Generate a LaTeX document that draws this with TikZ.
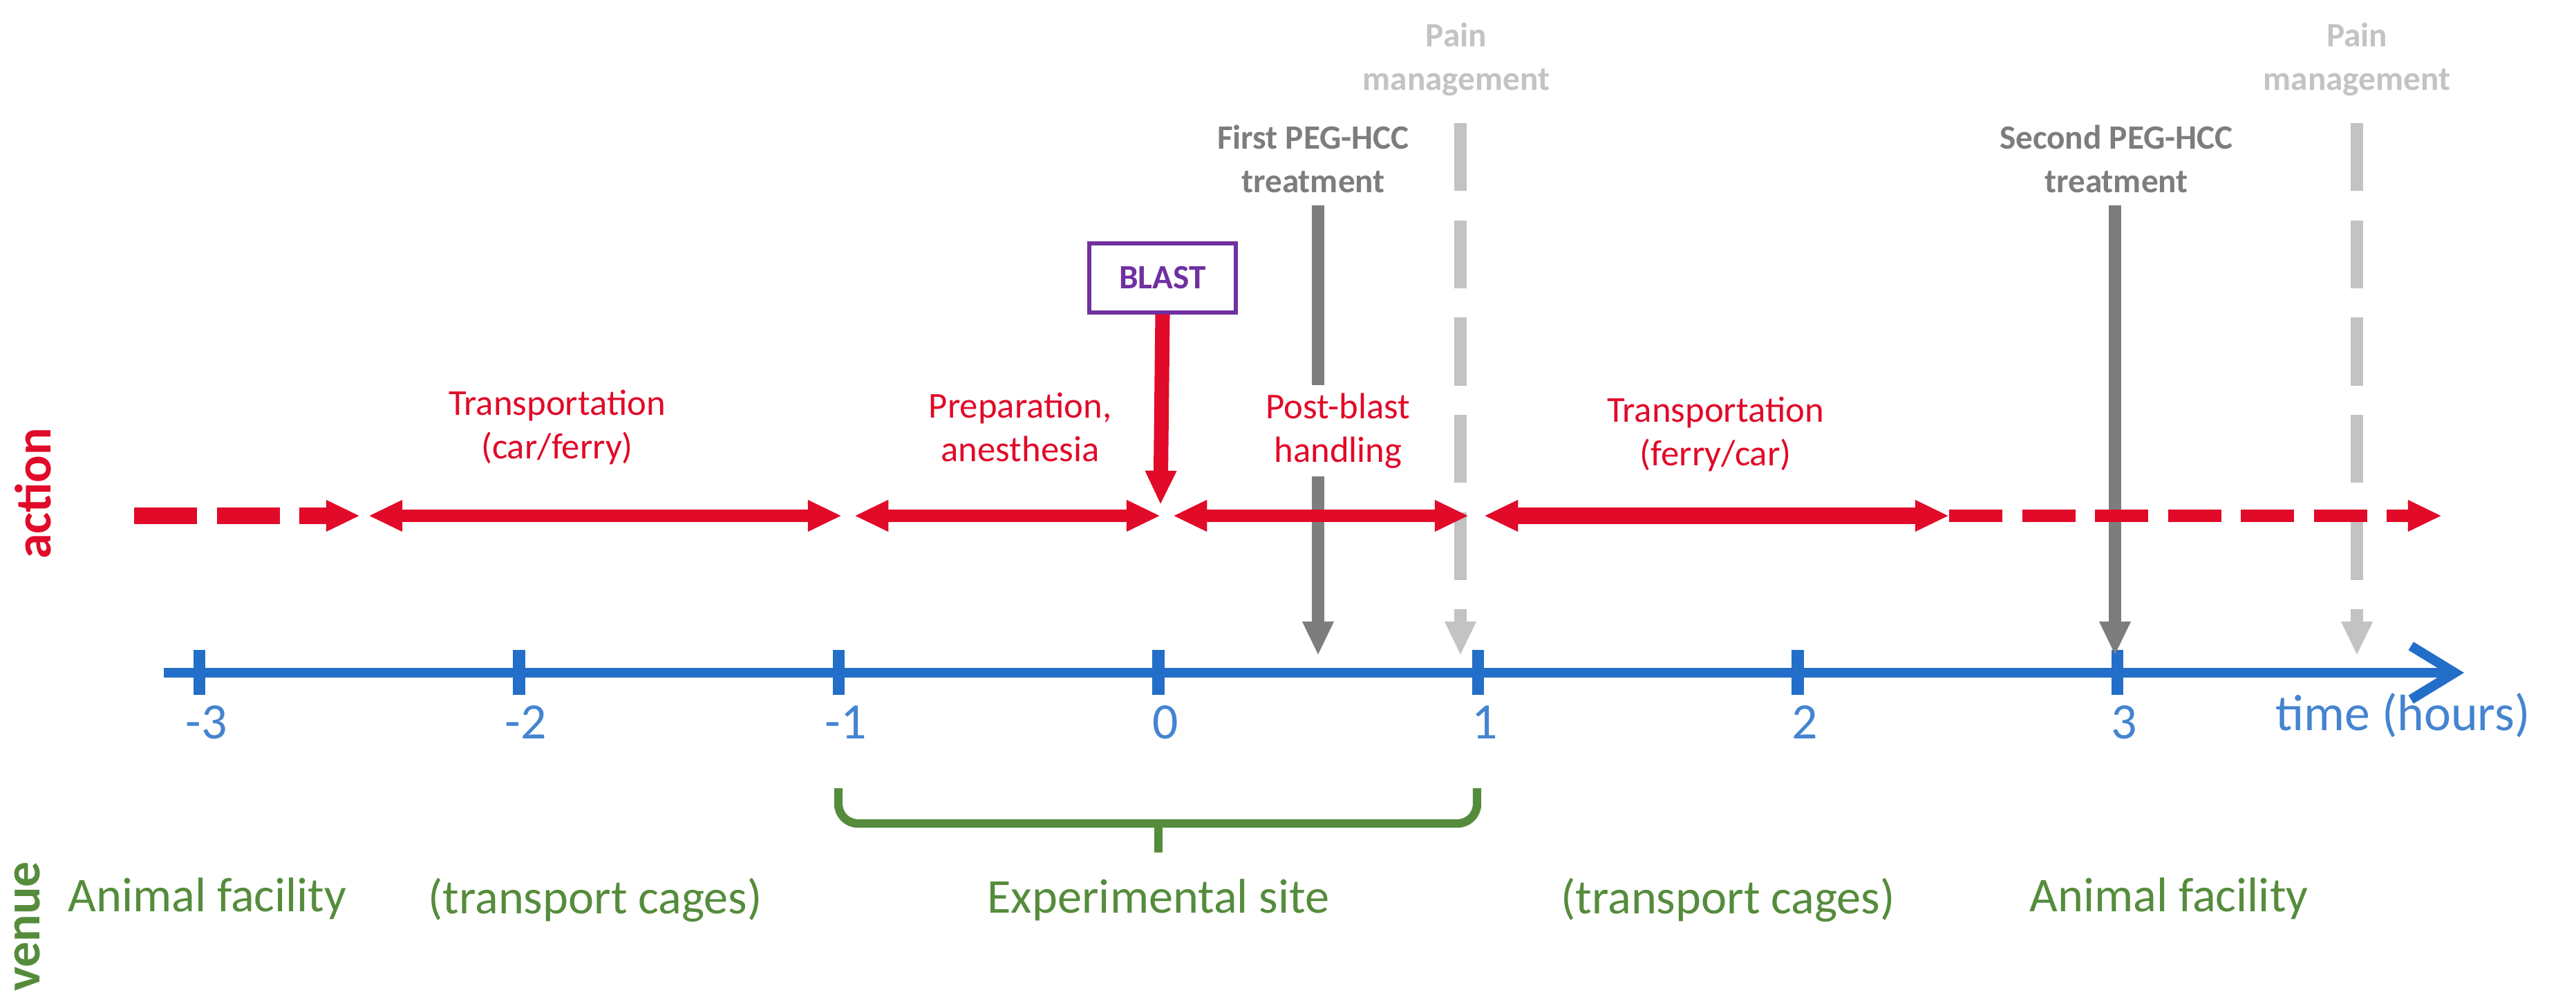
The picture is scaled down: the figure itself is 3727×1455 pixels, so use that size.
\documentclass[tikz,border=0pt]{standalone}
\usepackage{fontspec}
\setmainfont{Carlito}
\usetikzlibrary{arrows.meta}
\definecolor{cred}{RGB}{225,10,40}
\definecolor{cblue}{RGB}{35,110,200}
\definecolor{cgreen}{RGB}{85,140,60}
\definecolor{cgray}{RGB}{125,125,125}
\definecolor{clgray}{RGB}{195,195,195}
\definecolor{cpurple}{RGB}{112,48,160}
\begin{document}
\begin{tikzpicture}[x=0.01cm,y=-0.01cm,
  act/.style={cred,line width=5pt},
  actlbl/.style={cred,font=\fontsize{15}{18}\selectfont,align=center},
  grlbl/.style={cgray,font=\bfseries\fontsize{14}{18}\selectfont,align=center},
  lglbl/.style={clgray,font=\bfseries\fontsize{14}{18}\selectfont,align=center},
  venuelbl/.style={cgreen,font=\fontsize{20}{24}\selectfont},
  ticklbl/.style={cblue!85,font=\fontsize{21}{24}\selectfont},
  tip/.style={-{Triangle[length=14pt,width=12pt]}},
  dtip/.style={{Triangle[length=14pt,width=12pt]}-{Triangle[length=14pt,width=12pt]}}]
\useasboundingbox (0,0) rectangle (3727,1455);
% axis
\coordinate (ax0) at (237,973);
\coordinate (ax1) at (3565,973);
\draw[cblue,line width=4pt,-{Straight Barb[length=18pt,width=22pt,line width=4pt]}] (ax0) -- (ax1);
\foreach \h/\l in {-3/-3,-2/-2,-1/-1,0/0,1/1,2/2,3/3}{
  \draw[cblue,line width=5pt] ({1676+462.5*\h},940) -- ({1676+462.5*\h},1005);
  \node[ticklbl] (t\l) at ({1676+462.5*\h+10},1045) {\l};
}
\node[ticklbl,anchor=west] (tlab) at (3280,1035) {time (hours)};
% side labels
\node[cred,font=\bfseries\fontsize{21}{24}\selectfont,rotate=90] (actl) at (48,714) {action};
\node[cgreen,font=\bfseries\fontsize{21}{24}\selectfont,rotate=90] (venl) at (40,1340) {venue};
% PEG treatments
\node[grlbl] (peg1) at (1900,230) {First PEG-HCC\\treatment};
\coordinate (p1s) at (1907,297);
\coordinate (p1e) at (1907,948);
\draw[cgray,line width=5pt,tip] (p1s) -- (p1e);
\node[grlbl] (peg2) at (3062,230) {Second PEG-HCC\\treatment};
\coordinate (p2s) at (3060,297);
\coordinate (p2e) at (3060,948);
\draw[cgray,line width=5pt,tip] (p2s) -- (p2e);
% pain management
\node[lglbl] (pm1) at (2107,86) {Pain\\management};
\coordinate (pm1s) at (2113,178);
\coordinate (pm1e) at (2113,948);
\draw[clgray,line width=5pt,dash pattern=on 28pt off 12pt,tip] (pm1s) -- (pm1e);
\node[lglbl] (pm2) at (3410,86) {Pain\\management};
\coordinate (pm2s) at (3410,178);
\coordinate (pm2e) at (3410,948);
\draw[clgray,line width=5pt,dash pattern=on 28pt off 12pt,tip] (pm2s) -- (pm2e);
% action line
\coordinate (a0) at (194,746);
\coordinate (a1) at (521,746);
\coordinate (a2) at (533,746);
\coordinate (a3) at (1218,746);
\coordinate (a4) at (1236,746);
\coordinate (a5) at (1679,746);
\coordinate (a6) at (1697,746);
\coordinate (a7) at (2125,746);
\coordinate (a8) at (2147,746);
\coordinate (a9) at (2820,746);
\coordinate (a10) at (3533,746);
\draw[act,tip,dash pattern=on 26pt off 8pt,line width=7pt] (a0) -- (a1);
\draw[act,dtip] (a2) -- (a3);
\draw[act,dtip] (a4) -- (a5);
\draw[act,dtip] (a6) -- (a7);
\draw[act,dtip,line width=7pt] (a8) -- (a9);
\draw[act,tip,dash pattern=on 22pt off 8pt] (a9) -- (a10);
\node[actlbl] (l1) at (806,618) {Transportation\\(car/ferry)};
\node[actlbl] (l2) at (1476,618) {Preparation,\\anesthesia};
\node[actlbl,fill=white,inner xsep=1pt] (l3) at (1936,623) {Post-blast\\handling};
\node[actlbl] (l4) at (2482,628) {Transportation\\(ferry/car)};
% blast
\node[draw=cpurple,line width=1.5pt,text=cpurple,font=\bfseries\fontsize{14}{16}\selectfont,minimum width=2.12cm,minimum height=1cm] (blast) at (1682,402) {BLAST};
\coordinate (bt) at (1679,730);
\draw[cred,line width=6pt,tip] (blast.south) -- (bt);
% bracket
\coordinate (b0) at (1213,1140);
\coordinate (b1) at (2137,1140);
\coordinate (bm) at (1676,1233);
\draw[cgreen,line width=3.5pt,rounded corners=8pt] (b0) -- (1213,1191) -- (2137,1191) -- (b1);
\draw[cgreen,line width=3.5pt] (1676,1191) -- (bm);
% venues
\node[venuelbl] (v1) at (300,1300) {Animal facility};
\node[venuelbl] (v2) at (861,1302) {(transport cages)};
\node[venuelbl] (v3) at (1676,1302) {Experimental site};
\node[venuelbl] (v4) at (2500,1302) {(transport cages)};
\node[venuelbl] (v5) at (3138,1300) {Animal facility};
\end{tikzpicture}
\end{document}
